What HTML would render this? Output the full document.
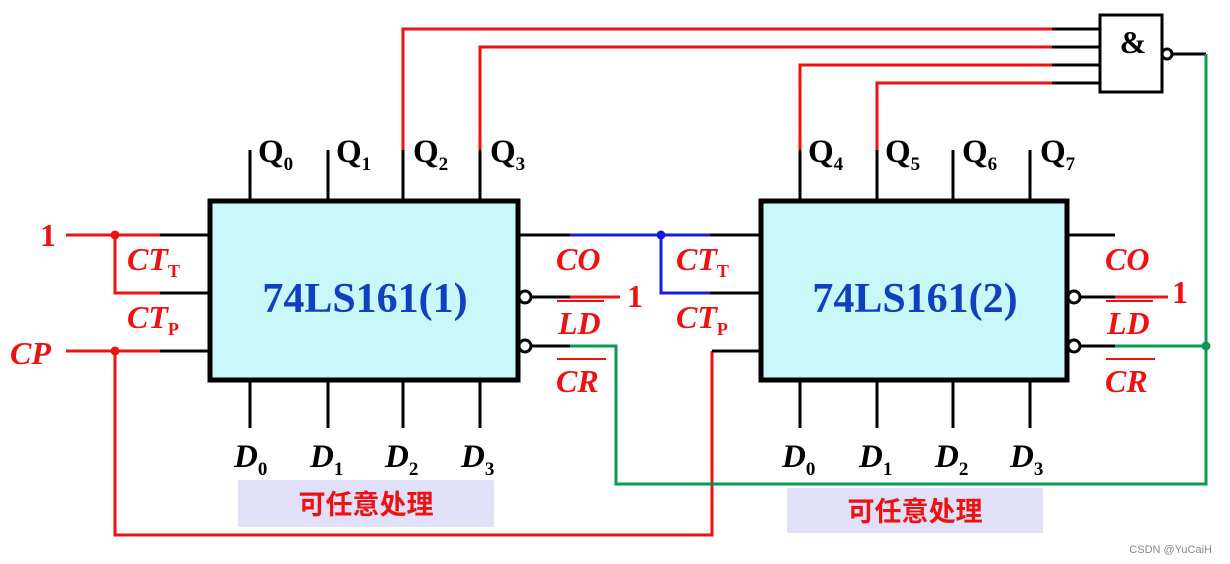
<!DOCTYPE html>
<html><head><meta charset="utf-8"><style>
html,body{margin:0;padding:0;background:#fff;}
svg{display:block;}
text{font-family:"Liberation Serif","Noto Serif CJK SC",serif;}
</style></head><body>
<svg width="1230" height="564" viewBox="0 0 1230 564" xmlns="http://www.w3.org/2000/svg">
<g fill="none" stroke-width="3">
<g stroke="#f01010">
<path d="M403 150 V29 H1052"/>
<path d="M480 150 V47 H1052"/>
<path d="M800 150 V65 H1052"/>
<path d="M877 150 V83 H1052"/>
<path d="M66 235 H160"/>
<path d="M115 235 V293 H160"/>
<path d="M66 351 H160"/>
<path d="M115 351 V535 H712 V351 H712"/>
<path d="M570 297 H620"/>
<path d="M1115 297 H1168"/>
</g>
<g stroke="#000">
<path d="M160 235 H210 M160 293 H210 M160 351 H210"/>
<path d="M250 150 V201 M328 150 V201 M403 150 V201 M480 150 V201"/>
<path d="M250 380 V428 M328 380 V428 M403 380 V428 M480 380 V428"/>
<path d="M800 150 V201 M877 150 V201 M953 150 V201 M1030 150 V201"/>
<path d="M800 380 V428 M877 380 V428 M953 380 V428 M1030 380 V428"/>
<path d="M518 235 H570 M530 297 H570 M530 346 H570"/>
<path d="M710 235 H761 M710 293 H761 M712 351 H761"/>
<path d="M1067 235 H1115 M1080 297 H1115 M1080 346 H1115"/>
<path d="M1052 29 H1100 M1052 47 H1100 M1052 65 H1100 M1052 83 H1100"/>
<path d="M1172 54 H1206"/>
</g>
<path stroke="#1a1ae0" d="M570 235 H710 M661 235 V293 H710"/>
<g stroke="#0a9a50">
<path d="M570 346 H616 V484 H1206 V54"/>
<path d="M1115 346 H1206"/>
</g>
</g>
<circle cx="115" cy="235" r="4.5" fill="#f01010"/>
<circle cx="115" cy="351" r="4.5" fill="#f01010"/>
<circle cx="661" cy="235" r="4.5" fill="#1a1ae0"/>
<circle cx="1206" cy="346" r="4.5" fill="#0a9a50"/>
<rect x="210" y="201" width="308" height="179" fill="#c8f8fa" stroke="#000" stroke-width="5"/>
<rect x="761" y="201" width="306" height="179" fill="#c8f8fa" stroke="#000" stroke-width="5"/>
<text x="365" y="312" font-size="42" font-weight="bold" fill="#1040c0" text-anchor="middle">74LS161(1)</text>
<text x="915" y="312" font-size="42" font-weight="bold" fill="#1040c0" text-anchor="middle">74LS161(2)</text>
<g fill="#fff" stroke="#000" stroke-width="3">
<circle cx="525" cy="297" r="6"/><circle cx="525" cy="346" r="6"/>
<circle cx="1074" cy="297" r="6"/><circle cx="1074" cy="346" r="6"/>
<circle cx="1167" cy="54" r="5"/>
</g>
<rect x="1100" y="15" width="62" height="77" fill="#fff" stroke="#000" stroke-width="3"/>
<text x="1133" y="53" font-size="32" font-weight="bold" text-anchor="middle">&amp;</text>
<g font-size="33" font-weight="bold" fill="#000">
<text x="258" y="162">Q<tspan font-size="19" dy="8">0</tspan></text>
<text x="336" y="162">Q<tspan font-size="19" dy="8">1</tspan></text>
<text x="413" y="162">Q<tspan font-size="19" dy="8">2</tspan></text>
<text x="490" y="162">Q<tspan font-size="19" dy="8">3</tspan></text>
<text x="808" y="162">Q<tspan font-size="19" dy="8">4</tspan></text>
<text x="885" y="162">Q<tspan font-size="19" dy="8">5</tspan></text>
<text x="962" y="162">Q<tspan font-size="19" dy="8">6</tspan></text>
<text x="1040" y="162">Q<tspan font-size="19" dy="8">7</tspan></text>
</g>
<g font-size="33" font-weight="bold" font-style="italic" fill="#000">
<text x="234" y="467">D<tspan font-size="19" font-style="normal" dy="8">0</tspan></text>
<text x="310" y="467">D<tspan font-size="19" font-style="normal" dy="8">1</tspan></text>
<text x="385" y="467">D<tspan font-size="19" font-style="normal" dy="8">2</tspan></text>
<text x="461" y="467">D<tspan font-size="19" font-style="normal" dy="8">3</tspan></text>
<text x="782" y="467">D<tspan font-size="19" font-style="normal" dy="8">0</tspan></text>
<text x="859" y="467">D<tspan font-size="19" font-style="normal" dy="8">1</tspan></text>
<text x="935" y="467">D<tspan font-size="19" font-style="normal" dy="8">2</tspan></text>
<text x="1010" y="467">D<tspan font-size="19" font-style="normal" dy="8">3</tspan></text>
</g>
<g font-size="32" font-weight="bold" fill="#f01010">
<text x="40" y="246">1</text>
<text x="627" y="307">1</text>
<text x="1172" y="303">1</text>
<g font-style="italic">
<text x="10" y="364">CP</text>
<text x="127" y="270">CT<tspan font-size="18" font-style="normal" dy="7">T</tspan></text>
<text x="127" y="328">CT<tspan font-size="18" font-style="normal" dy="7">P</tspan></text>
<text x="676" y="270">CT<tspan font-size="18" font-style="normal" dy="7">T</tspan></text>
<text x="676" y="328">CT<tspan font-size="18" font-style="normal" dy="7">P</tspan></text>
<text x="556" y="270">CO</text>
<text x="558" y="334">LD</text>
<text x="556" y="392">CR</text>
<text x="1105" y="270">CO</text>
<text x="1107" y="334">LD</text>
<text x="1105" y="392">CR</text>
</g>
</g>
<g stroke="#f01010" stroke-width="2">
<path d="M557 301 H604 M557 359 H606 M1106 301 H1153 M1106 359 H1155"/>
</g>
<rect x="238" y="480" width="256" height="47" fill="#e0e0f8"/>
<rect x="787" y="488" width="256" height="45" fill="#e0e0f8"/>
<g font-size="27" font-weight="bold" fill="#f01010" text-anchor="middle">
<text x="366" y="514" style="font-family:'Noto Sans CJK SC',sans-serif">可任意处理</text>
<text x="915" y="521" style="font-family:'Noto Sans CJK SC',sans-serif">可任意处理</text>
</g>
<text x="1212" y="553" font-size="11" fill="#888" text-anchor="end" style="font-family:'Liberation Sans',sans-serif">CSDN @YuCaiH</text>
</svg>
</body></html>
